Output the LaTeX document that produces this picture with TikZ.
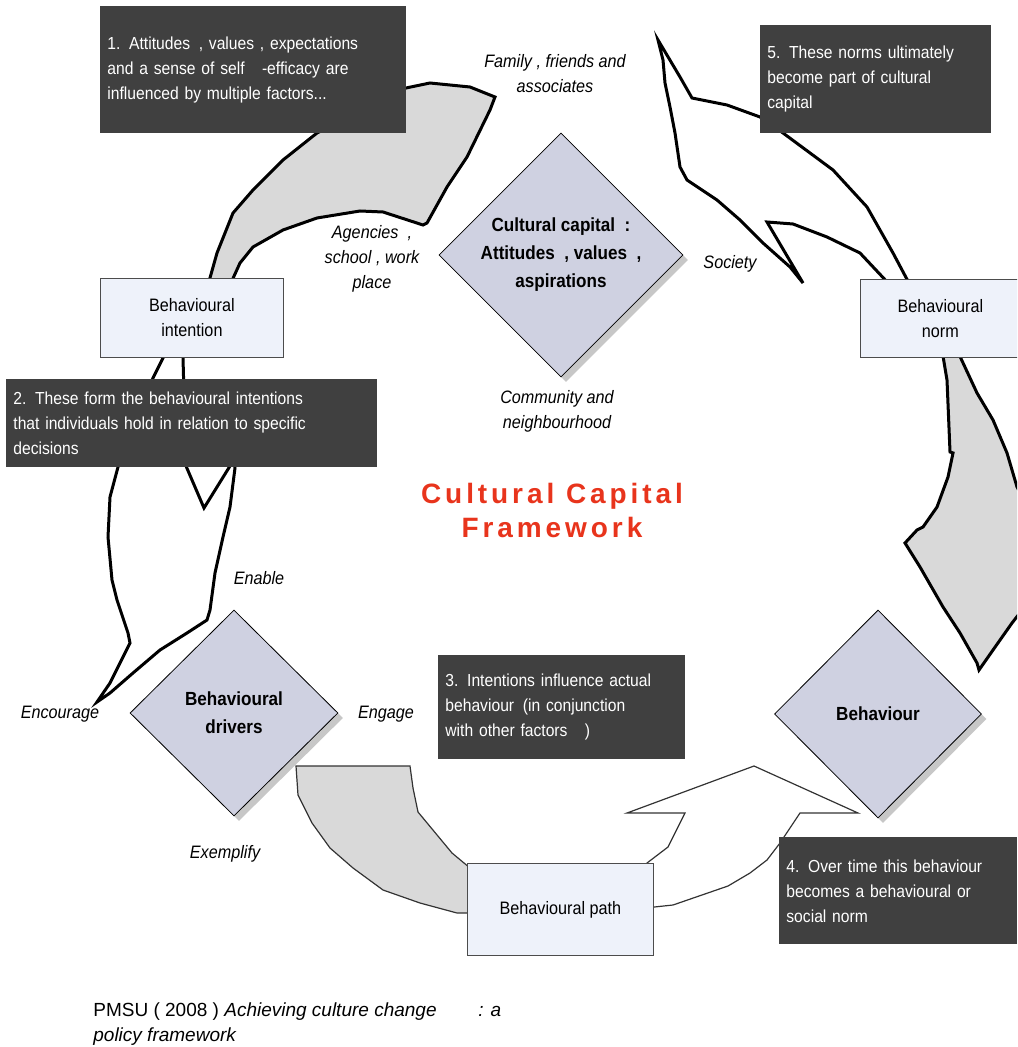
\documentclass[tikz,border=0pt]{standalone}
\usepackage{fontspec}
\setmainfont{Liberation Sans}
\newfontfamily\narrowfont{Liberation Sans}[FakeStretch=0.9]
\newfontfamily\titlefont{Liberation Sans}[LetterSpace=14]
\usepackage{xcolor}
\definecolor{NoteGrey}{RGB}{64,64,64}
\definecolor{PathBlue}{RGB}{238,242,250}
\definecolor{DiamondLilac}{RGB}{207,209,225}
\definecolor{ArrowGrey}{RGB}{217,217,217}
\definecolor{TitleRed}{RGB}{232,52,28}
\usepackage{tikz}
\usetikzlibrary{shapes.geometric, shadows}

\begin{document}
\begin{tikzpicture}[
    x=0.5pt, y=-0.5pt,
    font=\narrowfont\fontsize{9}{12.5}\selectfont,
    note_box/.style={fill=NoteGrey, text=white, anchor=north west, align=left, inner xsep=3.5pt, inner ysep=0pt, font=\narrowfont\fontsize{8.7}{12.5}\selectfont},
    path_box/.style={rectangle, draw=black!70, fill=PathBlue, anchor=north west, align=center, inner sep=0pt},
    capital_diamond/.style={diamond, draw=black, thin, fill=DiamondLilac, align=center, inner sep=0pt, font=\narrowfont\bfseries\fontsize{9.5}{14}\selectfont, drop shadow={shadow xshift=2.5pt, shadow yshift=-2.5pt, fill=black!22, opacity=1}},
    context_label/.style={align=center, font=\narrowfont\itshape\fontsize{9}{12.5}\selectfont},
    thick_arrow/.style={draw=black, line width=1.5pt, line join=miter},
    thin_arrow/.style={draw=black!80, line width=0.6pt}
]
    \useasboundingbox (0,0) rectangle (1017,1047);
    \clip (0,0) rectangle (1017,1047);

    % 1. BLOCK ARROWS (drawn first, boxes sit on top)
    \draw[thick_arrow, fill=ArrowGrey] (208,285) -- (217,253) -- (233,213) -- (253,190) -- (283,160) -- (317,133) -- (360,112) -- (406,88) -- (430,83) -- (470,87) -- (495,97) -- (490,110) -- (467,157) -- (447,187) -- (427,223) -- (423,225) -- (383,212) -- (360,211) -- (317,218) -- (283,230) -- (253,247) -- (240,263) -- (230,285) -- cycle;
    \draw[thick_arrow, fill=white] (163,350) -- (163,358) -- (153,378) -- (135,420) -- (118,467) -- (110,497) -- (108,537) -- (112,580) -- (117,600) -- (128,633) -- (130,643) -- (123,657) -- (110,683) -- (97,702) -- (110,693) -- (133,673) -- (160,650) -- (187,633) -- (207,620) -- (210,610) -- (215,573) -- (223,537) -- (230,507) -- (235,468) -- (233,450) -- (230,466) -- (204,508) -- (186,466) -- (183,358) -- (183,350) -- cycle;
    \draw[thick_arrow, fill=white] (910,285) -- (893,253) -- (867,207) -- (833,170) -- (783,133) -- (760,117) -- (727,105) -- (692,98) -- (680,77) -- (658,40) -- (663,60) -- (665,83) -- (670,107) -- (675,133) -- (680,167) -- (687,180) -- (717,200) -- (740,220) -- (763,243) -- (790,267) -- (803,283) -- (767,222) -- (793,224) -- (827,237) -- (860,253) -- (890,285) -- cycle;
    \draw[thick_arrow, fill=ArrowGrey] (942,350) -- (947,380) -- (950,452) -- (953,453) -- (948,477) -- (937,507) -- (923,527) -- (917,530) -- (905,543) -- (920,567) -- (943,607) -- (960,633) -- (977,663) -- (979,670) -- (993,650) -- (1012,623) -- (1030,600) -- (1030,510) -- (1017,487) -- (1007,453) -- (993,420) -- (977,393) -- (957,350) -- cycle;
    \draw[thin_arrow, fill=ArrowGrey] (296,766) -- (410,766) -- (413,788) -- (418,812) -- (452,853) -- (470,868) -- (470,913) -- (457,913) -- (420,903) -- (383,890) -- (353,868) -- (330,848) -- (312,823) -- (298,795) -- cycle;
    \draw[thin_arrow, fill=white] (640,875) -- (647,863) -- (668,847) -- (685,813) -- (627,813) -- (754,766) -- (858,813) -- (800,813) -- (780,843) -- (767,860) -- (750,873) -- (728,886) -- (673,905) -- (645,908) -- cycle;

    % 2. STAGES (light boxes)
    \node[path_box, minimum width=91.5pt, minimum height=39.5pt] (intention) at (100,278) {Behavioural\\intention};
    \node[path_box, minimum width=80pt, minimum height=39pt] (norm) at (860,279) {Behavioural\\norm};
    \node[path_box, minimum width=93pt, minimum height=46pt] (path) at (467,863) {Behavioural path};

    % 3. DIAMONDS
    \node[capital_diamond, minimum width=122pt, minimum height=122pt] (capital) at (561,255) {Cultural capital\enspace :\\Attitudes\enspace, values\enspace ,\\aspirations};
    \node[capital_diamond, minimum width=104pt, minimum height=103pt] (drivers) at (234,713) {Behavioural\\drivers};
    \node[capital_diamond, minimum width=103.5pt, minimum height=104pt] (behaviour) at (878,714) {Behaviour};

    % 4. CONTEXT LABELS
    \node[context_label] (family) at (555,74) {Family , friends and\\associates};
    \node[context_label] (agencies) at (372,259) {Agencies\enspace ,\\school , work\\place};
    \node[context_label] (society) at (730,264) {Society};
    \node[context_label] (community) at (557,411) {Community and\\neighbourhood};
    \node[context_label] (enable) at (259,578) {Enable};
    \node[context_label] (encourage) at (60,714) {Encourage};
    \node[context_label] (engage) at (386,714) {Engage};
    \node[context_label] (exemplify) at (225,854) {Exemplify};

    % 5. NOTES
    \node[note_box, text width=146pt, minimum height=63.5pt] (note1) at (100,6) {1. Attitudes\enspace , values , expectations\\and a sense of self\quad -efficacy are\\influenced by multiple factors...};
    \node[note_box, text width=178.5pt, minimum height=44pt] (note2) at (6,379) {2. These form the behavioural intentions\\that individuals hold in relation to specific\\decisions};
    \node[note_box, text width=116.5pt, minimum height=52pt] (note3) at (438,655) {3. Intentions influence actual\\behaviour\enspace (in conjunction\\with other factors\quad )};
    \node[note_box, text width=112pt, minimum height=53.5pt] (note4) at (779,837) {4. Over time this behaviour\\becomes a behavioural or\\social norm};
    \node[note_box, text width=108.5pt, minimum height=54pt] (note5) at (760,25) {5. These norms ultimately\\become part of cultural\\capital};

    % 6. TITLE AND SOURCE
    \node[text=TitleRed, align=center, font=\titlefont\bfseries\fontsize{14}{17}\selectfont] (title) at (552,510) {Cultural Capital\\Framework};
    \node[anchor=north west, align=left, inner sep=0pt, font=\fontsize{9.5}{12.5}\selectfont] (source) at (93,1002) {PMSU ( 2008 ) \textit{Achieving culture change\hspace{2.2em}: a}\\\textit{policy framework}};

\end{tikzpicture}
\end{document}
